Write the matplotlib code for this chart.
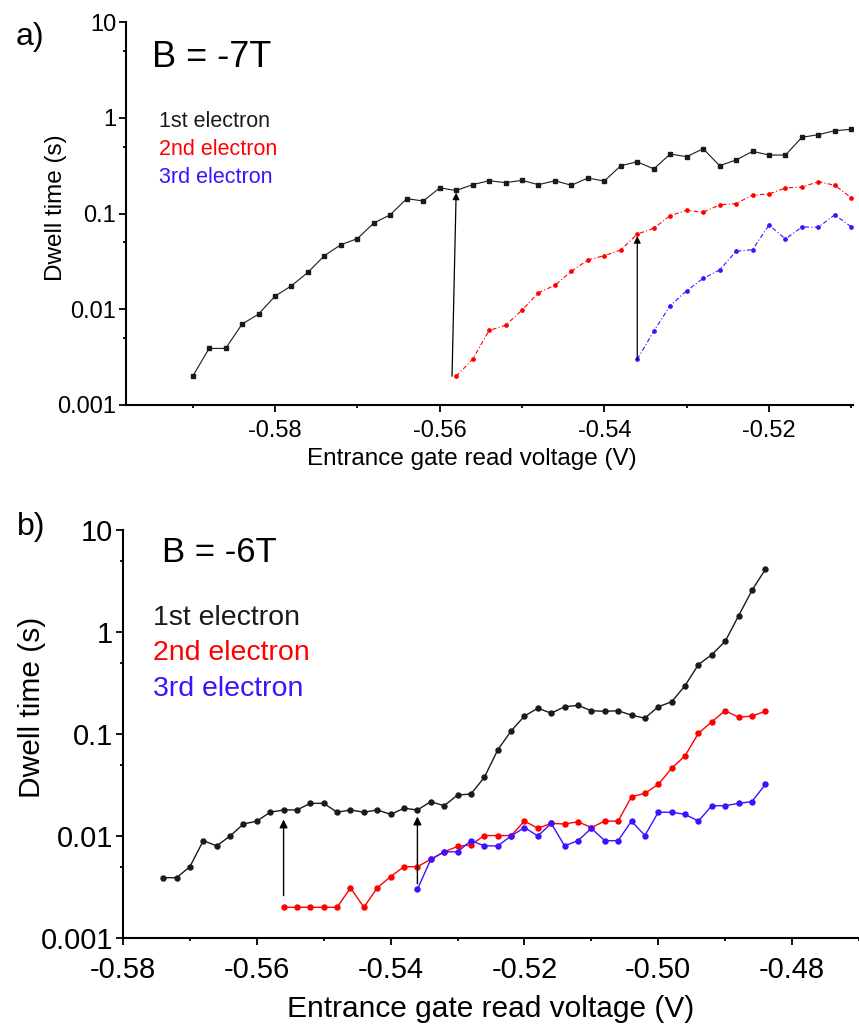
import numpy as np
import matplotlib
matplotlib.use('Agg')
import matplotlib.pyplot as plt
from matplotlib.ticker import FixedLocator, FixedFormatter, MultipleLocator, NullFormatter

plt.rcParams['font.family'] = ['Liberation Sans', 'DejaVu Sans']

# ---- panel a) B = -7T ----
va_1 = [-0.590, -0.588, -0.586, -0.584, -0.582, -0.580, -0.578, -0.576, -0.574, -0.572,
        -0.570, -0.568, -0.566, -0.564, -0.562, -0.560, -0.558, -0.556, -0.554, -0.552,
        -0.550, -0.548, -0.546, -0.544, -0.542, -0.540, -0.538, -0.536, -0.534, -0.532,
        -0.530, -0.528, -0.526, -0.524, -0.522, -0.520, -0.518, -0.516, -0.514, -0.512, -0.510]
ta_1 = [0.002, 0.0039, 0.0039, 0.0070, 0.0089, 0.0137, 0.0176, 0.0243, 0.0363, 0.0472,
        0.0546, 0.0796, 0.097, 0.143, 0.135, 0.185, 0.174, 0.20, 0.22, 0.21,
        0.222, 0.20, 0.22, 0.197, 0.235, 0.218, 0.316, 0.347, 0.292, 0.418,
        0.392, 0.475, 0.316, 0.362, 0.446, 0.408, 0.408, 0.625, 0.666, 0.733, 0.757]

va_2 = [-0.558, -0.556, -0.554, -0.552, -0.550, -0.548, -0.546, -0.544, -0.542, -0.540,
        -0.538, -0.536, -0.534, -0.532, -0.530, -0.528, -0.526, -0.524, -0.522, -0.520,
        -0.518, -0.516, -0.514, -0.512, -0.510]
ta_2 = [0.002, 0.0030, 0.0060, 0.0068, 0.0098, 0.0149, 0.0178, 0.025, 0.0327, 0.0363,
        0.0416, 0.061, 0.070, 0.095, 0.108, 0.103, 0.123, 0.127, 0.156, 0.160,
        0.185, 0.189, 0.215, 0.197, 0.146]

va_3 = [-0.536, -0.534, -0.532, -0.530, -0.528, -0.526, -0.524, -0.522, -0.520, -0.518,
        -0.516, -0.514, -0.512, -0.510]
ta_3 = [0.0030, 0.0059, 0.0109, 0.0156, 0.021, 0.0257, 0.0403, 0.0419, 0.0759, 0.0542,
        0.0723, 0.072, 0.097, 0.0723]

# arrows a): (x0, y0) -> (x1, y1)
arrows_a = [((-0.5585, 0.002), (-0.558, 0.165)),
            ((-0.536, 0.003), (-0.536, 0.058))]

# ---- panel b) B = -6T ----
vb_1 = [-0.574, -0.572, -0.570, -0.568, -0.566, -0.564, -0.562, -0.560, -0.558, -0.556,
        -0.554, -0.552, -0.550, -0.548, -0.546, -0.544, -0.542, -0.540, -0.538, -0.536,
        -0.534, -0.532, -0.530, -0.528, -0.526, -0.524, -0.522, -0.520, -0.518, -0.516,
        -0.514, -0.512, -0.510, -0.508, -0.506, -0.504, -0.502, -0.500, -0.498, -0.496,
        -0.494, -0.492, -0.490, -0.488, -0.486, -0.484]
tb_1 = [0.0039, 0.0039, 0.0050, 0.0090, 0.0080, 0.0100, 0.0131, 0.0140, 0.0171, 0.0180,
        0.0180, 0.0209, 0.0209, 0.0171, 0.0180, 0.0171, 0.0180, 0.0163, 0.0187, 0.0180,
        0.0217, 0.0198, 0.0252, 0.0258, 0.0376, 0.0697, 0.107, 0.150, 0.179, 0.160,
        0.185, 0.191, 0.169, 0.167, 0.169, 0.153, 0.143, 0.185, 0.207, 0.298,
        0.479, 0.600, 0.811, 1.44, 2.56, 4.11]

vb_2 = [-0.556, -0.554, -0.552, -0.550, -0.548, -0.546, -0.544, -0.542, -0.540, -0.538,
        -0.536, -0.534, -0.532, -0.530, -0.528, -0.526, -0.524, -0.522, -0.520, -0.518,
        -0.516, -0.514, -0.512, -0.510, -0.508, -0.506, -0.504, -0.502, -0.500, -0.498,
        -0.496, -0.494, -0.492, -0.490, -0.488, -0.486, -0.484]
tb_2 = [0.002, 0.002, 0.002, 0.002, 0.002, 0.0031, 0.002, 0.0031, 0.0040, 0.0050,
        0.0050, 0.0059, 0.0070, 0.0079, 0.0082, 0.0101, 0.0101, 0.0101, 0.014, 0.0119,
        0.0133, 0.0131, 0.0138, 0.0121, 0.014, 0.014, 0.0243, 0.0262, 0.0321, 0.046,
        0.0612, 0.1016, 0.132, 0.169, 0.146, 0.150, 0.167]

vb_3 = [-0.536, -0.534, -0.532, -0.530, -0.528, -0.526, -0.524, -0.522, -0.520, -0.518,
        -0.516, -0.514, -0.512, -0.510, -0.508, -0.506, -0.504, -0.502, -0.500, -0.498,
        -0.496, -0.494, -0.492, -0.490, -0.488, -0.486, -0.484]
tb_3 = [0.0030, 0.0059, 0.0070, 0.0070, 0.0090, 0.0080, 0.0080, 0.0100, 0.0121, 0.0100,
        0.0133, 0.0080, 0.0090, 0.0119, 0.0090, 0.0090, 0.0140, 0.0101, 0.0171, 0.0171,
        0.0163, 0.0140, 0.0198, 0.0198, 0.0209, 0.0217, 0.0321]

arrows_b = [((-0.556, 0.0026), (-0.556, 0.0145)),
            ((-0.536, 0.0034), (-0.536, 0.0155))]

ytick_vals = [0.001, 0.01, 0.1, 1, 10]
ytick_labels = ['0.001', '0.01', '0.1', '1', '10']
minor_vals = [0.005, 0.05, 0.5, 5]
names = ['1st electron', '2nd electron', '3rd electron']

BLACK = '#1a1a1a'
RED = '#ff0000'
BLUE = '#4010ff'

fig = plt.figure(figsize=(8.59, 10.24), dpi=100)
ax_a = fig.add_axes([0.1467, 0.6045, 0.993 - 0.1467, 0.9785 - 0.6045])
ax_b = fig.add_axes([0.1432, 0.084, 1.0 - 0.1432, 0.4824 - 0.084])


def style_axis(ax, fs, xpad):
    ax.set_yscale('log')
    ax.set_ylim(0.001, 10)
    ax.yaxis.set_major_locator(FixedLocator(ytick_vals))
    ax.yaxis.set_major_formatter(FixedFormatter(ytick_labels))
    ax.yaxis.set_minor_locator(FixedLocator(minor_vals))
    ax.yaxis.set_minor_formatter(NullFormatter())
    ax.xaxis.set_major_locator(MultipleLocator(0.02))
    ax.xaxis.set_minor_locator(MultipleLocator(0.01))
    ax.xaxis.set_major_formatter(plt.FuncFormatter(lambda v, p: '%.2f' % v))
    for s in ['top', 'right']:
        ax.spines[s].set_visible(False)
    for s in ['left', 'bottom']:
        ax.spines[s].set_linewidth(1.5)
    ax.tick_params(which='major', direction='out', length=5, width=1.3,
                   labelsize=fs, pad=2)
    ax.tick_params(axis='x', which='major', pad=xpad)
    ax.tick_params(which='minor', direction='out', length=2.5, width=1.3)


# panel a
ax_a.plot(va_1, ta_1, color=BLACK, lw=0.8, marker='s', ms=2.2)
ax_a.plot(va_2, ta_2, color=RED, lw=0.8, ls=(0, (4, 2, 1, 2)), marker='o', ms=2.4)
ax_a.plot(va_3, ta_3, color=BLUE, lw=0.8, ls=(0, (4, 2, 1, 2)), marker='o', ms=2.4)
ax_a.set_xlim(-0.5981, -0.5098)
style_axis(ax_a, 17, 6)
for (p0, p1) in arrows_a:
    ax_a.annotate('', xy=p1, xytext=p0,
                  arrowprops=dict(arrowstyle='-|>', color='k', lw=0.9,
                                  mutation_scale=10, shrinkA=0, shrinkB=0))
ax_a.set_xlabel('Entrance gate read voltage (V)', fontsize=17.5)
ax_a.xaxis.set_label_coords(0.476, -0.112)
ax_a.set_ylabel('Dwell time (s)', fontsize=17.5)
ax_a.yaxis.set_label_coords(-0.081, 0.515)

# panel b
ax_b.plot(vb_1, tb_1, color=BLACK, lw=1.0, marker='o', ms=3.6)
ax_b.plot(vb_2, tb_2, color=RED, lw=1.0, marker='o', ms=3.6)
ax_b.plot(vb_3, tb_3, color=BLUE, lw=1.0, marker='o', ms=3.6)
ax_b.set_xlim(-0.58, -0.47)
style_axis(ax_b, 21, 8)
for (p0, p1) in arrows_b:
    ax_b.annotate('', xy=p1, xytext=p0,
                  arrowprops=dict(arrowstyle='-|>', color='k', lw=1.0,
                                  mutation_scale=12, shrinkA=0, shrinkB=0))
ax_b.set_xlabel('Entrance gate read voltage (V)', fontsize=21.5)
ax_b.xaxis.set_label_coords(0.5, -0.14)
ax_b.set_ylabel('Dwell time (s)', fontsize=21.5)
ax_b.yaxis.set_label_coords(-0.104, 0.566)

# panel letters and field labels
fig.text(0.0186, 0.9785, 'a)', fontsize=23, va='top')
fig.text(0.020, 0.5, 'b)', fontsize=23, va='top')
fig.text(0.177, 0.9346, 'B = -7T', fontsize=26, va='baseline')
fig.text(0.1886, 0.4512, 'B = -6T', fontsize=25, va='baseline')

for i, (nm, col) in enumerate(zip(names, [BLACK, RED, BLUE])):
    fig.text(0.1855, 1 - (127 + 28 * i) / 1024, nm, color=col, fontsize=15.5, va='baseline')
    fig.text(0.178, 1 - (625 + 35.5 * i) / 1024, nm, color=col, fontsize=20.5, va='baseline')

fig.savefig('out.png', dpi=100)
